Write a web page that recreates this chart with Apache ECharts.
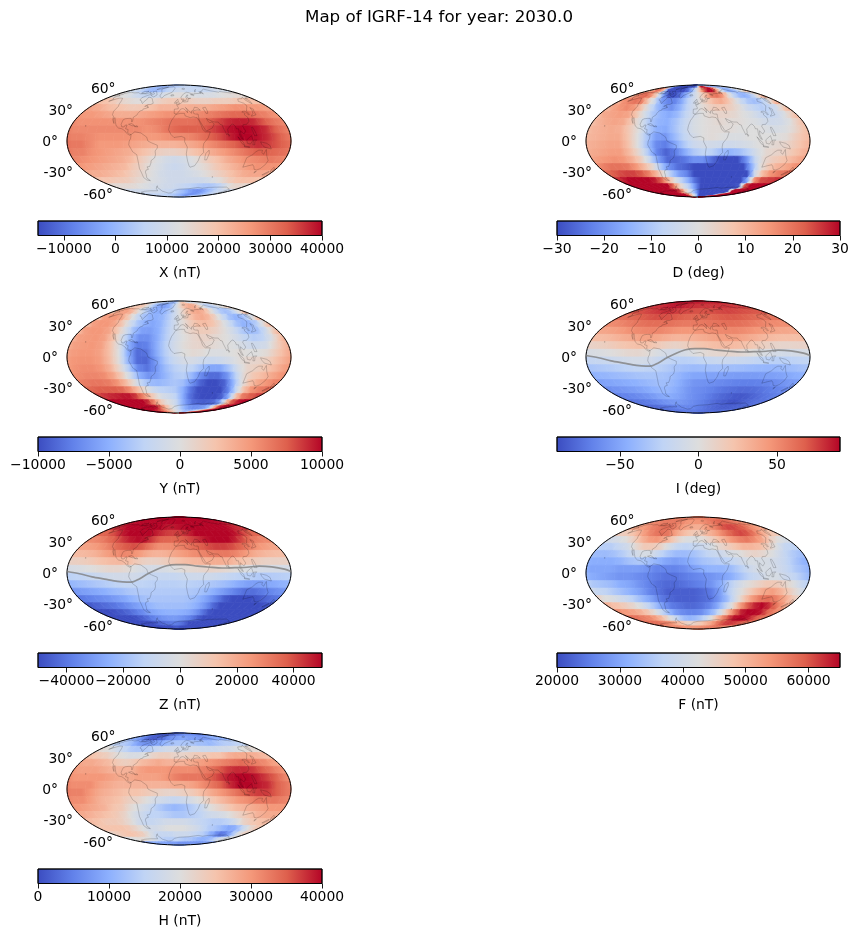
<!DOCTYPE html>
<html>
<head>
<meta charset="utf-8">
<style>html,body{margin:0;background:#fff}#chart{width:858px;height:936px}</style>
<script src="https://cdn.jsdelivr.net/npm/echarts@6/dist/echarts.min.js"></script>
</head>
<body>
<div id="chart"></div>
<script>
// cell centres of the value tables
const lonCenters=[-172.5,-157.5,-142.5,-127.5,-112.5,-97.5,-82.5,-67.5,-52.5,-37.5,-22.5,-7.5,7.5,22.5,37.5,52.5,67.5,82.5,97.5,112.5,127.5,142.5,157.5,172.5]
const latCenters=[85,75,65,55,45,35,25,15,5,-5,-15,-25,-35,-45,-55,-65,-75,-85]

// X, thousands of nT
const xValues=[
[4,3,2,1,0,0,0,2,3,3,4,4,5,5,6,7,7,7,6,6,6,6,5,5],
[9,8,6,3,1,0,1,2,4,6,7,8,9,8,7,7,7,7,7,7,8,9,10,10],
[14,13,12,10,8,7,7,8,9,11,12,13,13,12,12,11,11,11,11,12,13,13,14,14],
[20,19,17,15,14,13,13,14,15,17,18,18,18,17,16,16,16,17,17,17,18,19,20,20],
[24,23,21,20,19,18,18,19,20,22,22,22,22,23,23,23,24,25,26,27,27,26,26,25],
[26,26,25,24,23,23,23,24,25,26,27,27,27,27,28,29,30,31,32,32,32,30,29,27],
[27,27,27,27,27,27,27,27,28,29,30,31,31,31,32,33,35,37,38,38,37,34,31,29],
[28,28,28,28,28,28,28,28,27,28,30,32,33,33,33,35,37,39,40,40,39,37,33,30],
[29,29,28,27,27,27,27,26,26,26,27,28,28,29,31,33,35,38,40,40,39,37,34,31],
[30,30,28,26,26,26,25,24,23,22,22,22,23,24,26,28,30,32,34,36,37,36,34,32],
[29,29,27,26,25,24,23,21,19,17,16,16,17,19,21,23,25,27,29,31,33,33,32,31],
[28,27,26,25,24,23,21,18,15,12,10,9,10,12,15,18,20,23,25,27,28,29,30,29],
[26,25,24,23,22,21,18,16,13,11,9,8,9,11,13,15,18,20,22,24,26,27,27,27],
[23,23,22,21,20,18,16,14,12,10,9,9,9,10,11,13,15,17,19,21,23,24,24,24],
[19,19,18,18,17,15,14,12,11,10,9,9,9,9,9,9,10,12,14,17,19,20,20,20],
[14,14,14,14,13,12,11,10,10,9,9,8,7,6,5,4,3,3,4,6,10,14,15,15],
[9,9,9,9,9,9,9,8,8,7,6,4,2,0,-3,-5,-6,-5,-2,1,4,7,8,9],
[6,6,6,6,6,6,5,5,4,3,2,1,0,-2,-3,-5,-6,-6,-5,-3,-1,1,3,5]
]
// D, degrees
const dValues=[
[5,-5,-15,-30,-30,-30,-30,-30,-30,-30,-30,-20,10,30,30,30,25,10,-5,-15,-20,-20,-15,-5],
[10,20,20,5,-30,-30,-30,-30,-30,-25,-15,-3,8,22,30,30,20,2,-8,-15,-15,-12,-5,5],
[15,20,22,15,2,-15,-28,-30,-26,-18,-10,-3,3,10,18,20,15,3,-6,-12,-15,-12,-5,8],
[15,18,20,18,5,-5,-18,-22,-22,-16,-8,-3,2,6,10,12,8,2,-5,-10,-12,-10,-4,8],
[12,15,17,15,7,-3,-12,-18,-20,-15,-8,-3,1,4,6,6,4,1,-4,-7,-9,-7,-3,7],
[12,13,14,13,7,-2,-10,-14,-16,-13,-7,-3,0,2,3,3,2,0,-2,-5,-7,-5,-1,6],
[10,12,13,12,6,-2,-10,-14,-15,-11,-6,-2,0,1,2,1,1,0,-1,-3,-4,-3,0,6],
[10,11,12,11,6,0,-9,-15,-16,-11,-6,-2,0,1,1,1,0,0,0,-1,-2,-1,2,7],
[10,11,12,12,7,0,-10,-18,-19,-13,-7,-3,0,1,0,-1,-1,0,0,0,0,1,5,8],
[11,12,13,13,8,0,-11,-21,-23,-17,-10,-5,-3,-3,-4,-4,-3,-2,0,1,2,3,6,9],
[12,13,14,14,9,2,-9,-22,-27,-23,-16,-10,-7,-8,-12,-14,-12,-8,-2,2,3,4,7,10],
[14,15,16,15,11,5,-5,-18,-26,-26,-24,-20,-20,-25,-30,-30,-30,-20,-6,2,5,7,9,12],
[18,20,20,19,15,9,2,-10,-20,-25,-27,-30,-30,-30,-30,-30,-30,-30,-15,0,6,10,12,15],
[22,24,25,25,23,18,10,0,-10,-18,-22,-30,-30,-30,-30,-30,-30,-30,-30,-5,8,15,18,20],
[27,30,30,30,30,28,22,10,0,-8,-15,-25,-30,-30,-30,-30,-30,-30,-30,-15,15,24,25,26],
[30,30,30,30,30,30,30,20,6,-3,-10,-20,-30,-30,-30,-30,-30,-30,-30,-28,22,30,30,30],
[30,30,30,30,30,30,30,25,10,0,-8,-18,-30,-30,-30,-30,-30,-30,-30,-30,30,30,30,30],
[30,30,30,30,30,30,30,30,15,3,-5,-15,-30,-30,-30,-30,-30,-30,-30,-25,20,30,30,30]
]
// Y, hundreds of nT
const yValues=[
[5,0,-5,-15,-25,-30,-35,-40,-45,-45,-35,-15,10,25,30,25,15,0,-10,-15,-15,-10,0,5],
[20,25,25,10,-15,-35,-50,-60,-60,-50,-30,-5,15,30,40,40,30,10,-10,-25,-30,-20,-5,10],
[40,45,45,30,5,-20,-40,-50,-52,-45,-30,-10,8,25,38,42,35,15,-10,-30,-40,-35,-15,15],
[45,50,50,40,15,-15,-35,-47,-50,-45,-30,-12,5,22,35,40,32,12,-12,-35,-48,-45,-25,10],
[45,50,50,42,20,-10,-35,-50,-55,-48,-30,-12,3,17,28,30,24,8,-12,-35,-48,-45,-25,15],
[45,50,50,43,22,-8,-40,-58,-60,-50,-30,-12,2,12,18,18,12,2,-12,-30,-42,-38,-15,20],
[45,48,50,45,25,-8,-45,-68,-68,-52,-30,-12,0,8,12,10,5,0,-10,-22,-30,-25,-5,25],
[45,48,50,45,25,-5,-50,-78,-75,-52,-28,-10,2,8,10,6,2,0,-5,-12,-15,-10,10,30],
[47,50,50,45,28,0,-50,-85,-82,-55,-30,-12,0,5,3,-3,-3,0,3,0,0,5,20,35],
[50,52,52,47,30,2,-45,-85,-88,-62,-35,-18,-8,-8,-15,-18,-15,-8,2,8,10,15,28,40],
[52,55,55,50,35,8,-30,-72,-82,-65,-42,-28,-20,-25,-40,-55,-55,-35,-8,10,15,22,32,45],
[55,58,58,55,42,18,-15,-50,-65,-60,-45,-32,-28,-45,-70,-85,-85,-65,-25,8,22,30,40,50],
[62,65,65,62,52,32,5,-25,-42,-45,-40,-35,-40,-65,-88,-100,-100,-90,-50,-5,25,40,50,58],
[72,75,75,75,70,55,30,5,-15,-25,-28,-32,-50,-80,-98,-100,-100,-100,-75,-25,22,50,60,68],
[85,90,92,95,95,85,60,32,8,-8,-15,-25,-50,-80,-95,-100,-100,-100,-90,-50,15,60,72,80],
[100,100,100,100,100,100,85,55,25,5,-5,-20,-45,-68,-85,-90,-92,-90,-85,-55,10,70,90,100],
[100,100,100,100,100,100,95,70,40,15,0,-15,-35,-50,-62,-68,-68,-65,-60,-40,10,70,100,100],
[100,100,100,95,85,75,60,45,25,10,0,-10,-20,-30,-40,-45,-45,-40,-30,-10,20,60,90,100]
]
// I, degrees
const iValues=[
[84,84,84,85,86,86,86,86,85,85,85,85,85,84,84,84,84,84,84,84,84,84,84,84],
[78,79,80,82,84,85,85,84,83,82,80,79,78,78,78,78,78,79,79,78,78,77,77,77],
[71,72,74,76,78,80,80,78,76,74,73,71,71,71,72,73,74,75,74,73,72,71,70,70],
[61,63,65,68,70,72,72,71,69,67,65,65,64,64,66,68,69,69,68,66,64,62,60,60],
[50,52,55,58,60,62,62,62,60,58,57,57,58,59,60,62,62,61,59,56,53,51,50,49],
[38,40,43,47,50,52,53,52,49,46,45,46,47,49,51,52,52,50,47,44,41,39,38,37],
[26,27,30,34,37,40,40,37,33,30,30,32,35,38,41,41,41,37,33,29,27,25,25,25],
[11,13,16,20,23,25,24,18,13,10,13,18,22,25,27,28,26,22,17,12,9,8,9,10],
[-5,-3,0,3,6,7,4,-3,-8,-10,-7,-2,3,6,7,7,5,2,-2,-5,-8,-9,-8,-6],
[-19,-17,-15,-12,-9,-8,-9,-15,-20,-24,-25,-24,-20,-17,-15,-15,-16,-18,-21,-24,-25,-25,-23,-21],
[-32,-30,-28,-25,-23,-21,-23,-24,-28,-33,-36,-38,-37,-35,-35,-36,-37,-39,-40,-41,-41,-39,-37,-34],
[-43,-41,-39,-37,-35,-33,-32,-33,-35,-40,-46,-50,-50,-52,-52,-54,-55,-55,-55,-54,-53,-51,-48,-45],
[-52,-50,-48,-46,-44,-41,-38,-36,-38,-44,-52,-58,-59,-61,-63,-65,-67,-68,-68,-67,-65,-62,-58,-55],
[-60,-58,-56,-54,-51,-47,-43,-40,-43,-49,-56,-61,-63,-66,-70,-73,-75,-77,-77,-76,-73,-69,-66,-63],
[-67,-66,-64,-61,-58,-54,-49,-47,-49,-53,-58,-62,-65,-69,-74,-78,-81,-84,-85,-83,-79,-75,-72,-69],
[-73,-72,-70,-68,-65,-61,-58,-56,-56,-58,-61,-64,-67,-71,-75,-79,-82,-85,-88,-85,-81,-78,-75,-74],
[-78,-78,-77,-75,-73,-71,-68,-66,-65,-65,-66,-68,-70,-73,-76,-78,-80,-82,-83,-83,-82,-81,-80,-79],
[-74,-73,-73,-72,-72,-71,-71,-70,-70,-70,-70,-71,-72,-73,-74,-75,-76,-77,-78,-78,-77,-76,-75,-75]
]
// Z, thousands of nT
const zValues=[
[50,50,50,50,50,50,50,50,50,50,50,50,50,50,50,50,50,50,50,50,50,50,50,50],
[48,49,50,50,50,50,50,50,50,50,50,50,50,50,50,50,50,50,50,50,50,50,49,48],
[44,46,50,50,50,50,50,50,50,48,47,48,49,50,50,50,50,50,50,50,50,48,45,44],
[36,38,42,47,50,50,50,50,47,44,42,42,43,46,50,50,50,50,50,50,48,43,38,36],
[28,30,34,38,43,47,49,48,42,37,36,36,38,41,44,48,50,50,50,46,40,34,30,28],
[22,23,26,30,35,38,40,38,32,27,27,28,31,34,37,40,42,42,40,36,31,26,23,21],
[15,16,18,22,26,29,28,24,19,17,18,21,24,27,29,31,32,32,29,25,20,17,15,14],
[7,8,10,13,15,16,14,9,6,6,8,11,14,16,17,19,19,18,14,11,8,6,6,6],
[-3,-2,0,2,4,4,2,-2,-4,-4,-3,-1,2,3,4,5,4,2,0,-2,-4,-4,-4,-4],
[-13,-12,-10,-8,-6,-5,-5,-6,-9,-10,-10,-10,-8,-7,-7,-7,-9,-11,-13,-14,-16,-16,-15,-14],
[-22,-20,-18,-16,-14,-12,-11,-12,-13,-14,-14,-14,-13,-14,-15,-17,-19,-22,-26,-29,-30,-28,-26,-24],
[-31,-29,-27,-25,-22,-20,-17,-16,-16,-16,-16,-16,-16,-17,-19,-23,-28,-33,-38,-42,-42,-39,-36,-33],
[-39,-37,-35,-33,-30,-27,-23,-20,-18,-18,-18,-18,-18,-20,-24,-30,-38,-46,-50,-50,-50,-48,-44,-41],
[-46,-44,-42,-40,-37,-33,-29,-25,-22,-20,-20,-20,-20,-22,-26,-33,-43,-50,-50,-50,-50,-50,-50,-48],
[-50,-50,-48,-46,-43,-39,-35,-30,-27,-25,-24,-24,-25,-27,-32,-40,-48,-50,-50,-50,-50,-50,-50,-50],
[-50,-50,-50,-50,-48,-45,-41,-37,-34,-32,-31,-31,-33,-36,-40,-46,-50,-50,-50,-50,-50,-50,-50,-50],
[-50,-50,-50,-50,-50,-50,-46,-44,-42,-40,-39,-39,-41,-45,-50,-50,-50,-50,-50,-50,-50,-50,-50,-50],
[-50,-50,-50,-50,-50,-50,-50,-50,-50,-48,-47,-47,-49,-50,-50,-50,-50,-50,-50,-50,-50,-50,-50,-50]
]
// F, thousands of nT
const fValues=[
[56,56,56,56,56,56,56,56,56,56,56,56,56,56,56,57,57,57,57,57,57,57,57,56],
[55,56,56,57,57,57,57,56,55,54,54,54,54,55,56,57,58,59,59,59,58,57,56,55],
[52,53,54,56,57,58,58,57,55,53,52,51,51,53,55,57,60,61,61,60,59,56,54,52],
[46,47,49,52,55,57,58,57,53,50,48,47,47,50,52,55,58,60,61,60,57,53,49,47],
[40,41,43,46,50,53,54,52,48,44,42,42,43,45,48,51,54,56,57,55,52,47,43,41],
[36,36,38,40,44,47,47,45,41,38,37,38,39,41,44,46,48,50,50,49,46,42,38,37],
[33,33,34,36,39,41,41,38,35,33,33,34,36,38,39,41,42,44,45,44,42,39,36,34],
[31,31,31,32,34,35,34,32,30,29,30,32,34,35,36,37,39,41,41,41,40,38,35,32],
[30,30,30,29,29,29,28,26,26,26,27,29,31,32,32,33,36,39,41,41,40,38,35,33],
[31,30,29,28,28,27,26,25,24,24,25,26,27,28,29,31,34,37,39,41,41,39,37,34],
[35,34,33,31,30,28,26,24,23,23,24,25,26,28,31,36,40,43,45,47,47,45,42,38],
[38,37,35,33,31,29,26,24,22,22,22,22,23,25,29,36,41,45,49,52,53,50,46,42],
[43,42,40,38,35,32,29,25,23,22,22,22,23,24,28,33,40,47,53,57,58,56,52,47],
[49,48,46,44,41,37,33,28,25,24,23,23,24,26,30,36,43,52,59,63,65,62,57,52],
[54,53,52,50,47,43,38,33,29,27,26,26,27,30,34,41,49,57,63,65,65,64,59,56],
[58,57,56,55,52,49,44,40,36,33,32,33,35,38,43,49,55,60,64,65,65,63,60,58],
[58,58,58,57,56,54,51,49,47,45,45,46,47,49,51,53,56,59,61,62,62,61,60,58],
[55,55,55,55,55,55,54,54,54,54,54,54,54,55,55,55,56,56,57,57,57,57,56,55]
]
// H, thousands of nT
const hValues=[
[5,4,3,2,1,1,1,2,3,3,4,4,5,5,6,7,7,7,6,6,6,6,5,5],
[10,9,7,4,2,1,2,3,4,6,7,8,9,9,8,8,8,7,7,8,9,10,10,10],
[15,14,13,11,8,7,7,8,9,11,12,13,13,13,13,12,12,11,12,13,14,14,15,15],
[21,20,18,16,14,13,13,14,16,17,18,18,18,18,18,17,17,17,18,18,19,20,21,21],
[25,24,23,21,20,19,19,20,22,23,23,22,22,23,24,24,25,25,27,28,28,28,27,26],
[28,28,27,26,24,23,24,26,27,28,27,27,27,28,29,30,31,32,33,34,33,32,31,29],
[29,29,29,28,27,27,27,29,30,30,30,31,31,31,32,33,35,37,38,38,37,35,33,31],
[30,30,30,30,29,28,28,29,29,29,30,32,33,33,33,35,37,39,40,40,39,37,35,32],
[31,31,31,29,28,27,27,27,27,27,27,28,28,29,31,33,35,38,40,40,39,38,35,33],
[32,32,30,28,27,26,25,25,24,23,22,22,23,24,26,28,30,32,34,36,37,37,35,33],
[31,31,29,27,26,25,23,22,20,18,17,16,17,19,21,24,26,28,30,31,33,33,33,32],
[30,29,28,27,25,24,21,19,17,14,12,11,12,14,16,20,22,24,26,27,28,29,30,30],
[28,27,26,25,24,22,19,17,15,15,14,13,13,14,15,17,18,19,21,23,25,27,28,28],
[26,25,24,24,23,21,18,16,16,17,18,18,18,17,16,15,14,14,15,18,22,24,25,26],
[25,25,25,25,24,22,20,18,18,19,20,20,20,19,18,16,14,13,11,9,10,15,20,24],
[23,24,25,25,24,23,20,17,16,16,16,17,17,17,16,15,14,11,8,4,5,10,17,22],
[19,20,21,21,20,19,17,15,14,14,14,15,14,13,13,12,11,10,10,11,13,16,18,19],
[8,9,10,10,10,9,9,8,8,8,8,7,7,7,7,7,7,7,7,7,7,8,8,8]
]

// zero inclination line, [lon, lat]
const dipEquator=[[-180,2],[-160,-1],[-140,-5],[-120,-8],[-100,-11],[-85,-12],[-75,-11.5],[-65,-8],[-50,-1],[-35,5],[-20,9.5],[-5,11],[10,11],[30,9],[50,7.5],[70,6.5],[90,7],[110,7.5],[130,9],[150,8],[170,5],[180,2]]

// rough coastlines, [lon, lat]
const coastlines=[
[[-168,65.5],[-162,67],[-166,68.5],[-156,71],[-141,69.7],[-128,70],[-115,68],[-108,68],[-95,68],[-94,72],[-88,68.5],[-82,69],[-81,67],[-87,65],[-94,61],[-92,57],[-85,55.3],[-82,53],[-79,51.5],[-79,55],[-77,57],[-78,62],[-70,61],[-65,59],[-61,56],[-56,52],[-60,50],[-66,50],[-70,47],[-65,48.5],[-64,46],[-61,46],[-66,44],[-70,43.5],[-70,41.5],[-74,40.5],[-76,37],[-76,35],[-81,31.5],[-80,27],[-80.5,25],[-82.5,28],[-84,30],[-89,30],[-94,29.5],[-97,28],[-97.5,22],[-95,18.5],[-91,18.5],[-90,21],[-87,21],[-88,16],[-83.5,15],[-83.5,11],[-80,9],[-77.5,8.5],[-80,7.5],[-85,10],[-88,13],[-94,16],[-100,17],[-105,20],[-109,25.5],[-113,31],[-114.5,30],[-110,23],[-115,28],[-117,32.5],[-121,35],[-124,40],[-124,47],[-128,51],[-133,56],[-140,60],[-148,60.5],[-152,59],[-160,55],[-158,58.5],[-165,60.5],[-165,63],[-161,64.5],[-168,65.5]],
[[-77.5,8.5],[-72,12],[-62,10.5],[-52,5],[-50,0],[-44,-2.5],[-35,-5.5],[-35,-9],[-39,-13],[-39,-18],[-41,-22],[-48,-26],[-49,-29],[-53,-34],[-58,-34.5],[-57,-38],[-62,-39],[-65,-42],[-66,-46],[-69,-51],[-65,-55],[-72,-54],[-75,-50],[-73,-42],[-73,-37],[-71,-30],[-70,-18],[-76,-14],[-81,-5],[-80,0],[-78,3],[-77.5,8.5]],
[[-6,35.5],[3,37],[10,37],[11,33.5],[20,31],[25,32],[32,31],[34,28],[37,21],[39,15],[43,12],[51,12],[47,4],[40,-3],[39,-8],[40.5,-15],[35,-20],[33,-26],[28,-33],[20,-35],[18,-33],[15,-27],[12,-17],[13.5,-8],[9,-1],[9.5,4],[4,6],[-5,5],[-8,4.5],[-13,8.5],[-17,14.5],[-16,20],[-13,27],[-9.5,31],[-6,35.5]],
[[49,-12],[50,-16],[47,-25],[44,-25],[43.5,-20],[44.5,-16],[49,-12]],
[[-9,37],[-9,43],[-1.5,43.5],[-1.5,46],[-4.5,48.5],[2,51],[8,54],[8.5,57],[10.5,57],[10,54],[14,54],[20,54.5],[22,59],[29,60],[22,60],[21,63],[25,65.5],[22,65.8],[17.5,62],[18.5,59.5],[15.5,56],[13,55.5],[11,59],[6,58],[5,62],[14,68],[25,71],[31,70],[41,67],[33,66.5],[40,64.5],[44,68],[54,68.5],[68,69],[67,72],[73,68],[73,72.5],[80,73],[87,75],[104,77.5],[113,74],[130,71],[140,72.5],[160,69.5],[170,70],[180,68.5]],
[[-180,68.5],[-170,66],[-173,64],[-180,65]],
[[180,65],[177,64.5],[170,60],[163,60],[163,56],[157,51],[156,57],[163,62],[155,59.5],[143,59],[135,55],[141,52],[140,48],[132,43],[128,40],[129,36],[126,34.5],[126,38],[125,40],[121,40],[118,39],[122,37],[119,35],[122,31],[120,26],[114,22],[108,21.5],[106,19],[109,13],[105,9],[100.5,13.5],[100,8],[103.5,2],[101,3],[98,8],[98,16],[94.5,16],[94,19],[91,22.5],[87,21],[80,15.5],[80,11],[77.5,8],[73,18],[72.5,21],[69,22],[67,25],[61,25],[57,26],[52,28],[48,30],[50,26],[52,24],[56,25],[59.5,22.5],[55,17],[45,13],[43,15],[39,21],[35,28],[35,36],[30,36],[27,37],[26.5,40],[29,41],[35,42],[41,41.5],[37,45],[31,46],[28,42],[24,40.5],[23,37],[20,40],[13,45.5],[16,41.5],[16,38],[12,42],[8,44],[3,43],[0,39.5],[-5,36],[-9,37]],
[[-73,78],[-60,82],[-32,83.5],[-18,80],[-22,71],[-40,65],[-43,60],[-52,64],[-54,70],[-68,76],[-73,78]],
[[-80,73.5],[-68,69],[-62,66],[-66,62],[-72,64],[-78,65],[-73,68],[-88,72],[-80,73.5]],
[[-90,76.5],[-75,78],[-62,82.5],[-90,82],[-90,76.5]],
[[-118,72],[-105,73],[-102,69],[-115,69],[-118,72]],
[[-5,50],[1,51.5],[-2,56],[-3,58.5],[-6,56],[-3,54],[-5,52],[-5,50]],
[[-6,52],[-10,52],[-8,55],[-6,54],[-6,52]],
[[-22,64],[-14,64.5],[-16,66.5],[-22,66],[-22,64]],
[[130,33],[140,35],[142,40],[145,43],[142,45.5],[140,41],[136,36.5],[131,34],[130,33]],
[[-85,22],[-80,23],[-74,20],[-78,20],[-85,22]],
[[-74,19],[-68.5,18.5],[-70,20],[-74,19]],
[[120,18],[122,18],[124,13],[126,7],[122,7],[120,14],[120,18]],
[[109,1.5],[117,7],[119,1],[115,-4],[110,-3],[109,1.5]],
[[95,5.5],[104,-2],[106,-6],[101,-3],[95,5.5]],
[[105,-6.5],[114,-7.5],[114,-8.5],[106,-7.5],[105,-6.5]],
[[119,-5],[120,1],[125,1.5],[122,-1],[122,-5],[119,-5]],
[[131,-1],[141,-3],[147,-6],[150,-10.5],[143,-9],[138,-8],[133,-4],[131,-1]],
[[114,-22],[122,-18],[126,-14],[130,-12],[136,-12],[136,-15],[140,-17.5],[142,-11],[146,-19],[153,-26],[153,-31],[150,-37],[146,-39],[140,-38],[135,-34],[131,-31.5],[124,-33],[116,-35],[115,-31],[114,-22]],
[[145,-41],[148,-41],[147,-43.5],[145,-41]],
[[173,-35],[178,-38],[175,-41.5],[173,-39],[173,-35]],
[[172,-41],[174,-42],[170,-46.5],[167,-46],[172,-41]],
[[80,9.5],[82,7],[80.5,6],[80,9.5]],
[[-156,20.5],[-155,19],[-156,19.5],[-156,20.5]],
[[69,-49],[70.5,-49],[70,-50],[69,-49]],
[[47,45],[53,46],[54,40],[53,37],[50,37],[49,40],[47,45]],
[[-180,-78],[-160,-79],[-150,-76],[-125,-74],[-100,-73],[-75,-73],[-68,-68],[-58,-63.5],[-62,-66],[-60,-74],[-45,-78],[-30,-77],[-15,-72],[0,-70],[30,-69],[55,-66.5],[70,-68],[85,-66.5],[110,-66],[135,-66],[160,-70],[170,-78],[180,-78]],
[[12,78],[20,80],[25,78],[17,76.5],[12,78]],
[[52,71],[68,77],[58,74.5],[52,71]]
]

const latTicks=[60,30,0,-30,-60]
const xTicks=[-10000,0,10000,20000,30000,40000]
const dTicks=[-30,-20,-10,0,10,20,30]
const yTicks=[-10000,-5000,0,5000,10000]
const iTicks=[-50,0,50]
const zTicks=[-40000,-20000,0,20000,40000]
const fTicks=[20000,30000,40000,50000,60000]
const hTicks=[0,10000,20000,30000,40000]

const panels=[
  {name:'X (nT)',values:xValues,unit:1000,min:-15000,max:40000,ticks:xTicks,col:0,row:0},
  {name:'D (deg)',values:dValues,unit:1,min:-30,max:30,ticks:dTicks,col:1,row:0},
  {name:'Y (nT)',values:yValues,unit:100,min:-10000,max:10000,ticks:yTicks,col:0,row:1},
  {name:'I (deg)',values:iValues,unit:1,min:-90,max:90,ticks:iTicks,col:1,row:1,zeroLine:true},
  {name:'Z (nT)',values:zValues,unit:1000,min:-50000,max:50000,ticks:zTicks,col:0,row:2,zeroLine:true},
  {name:'F (nT)',values:fValues,unit:1000,min:20000,max:65000,ticks:fTicks,col:1,row:2},
  {name:'H (nT)',values:hValues,unit:1000,min:0,max:40000,ticks:hTicks,col:0,row:3}
]

// matplotlib coolwarm
const coolwarm=['rgb(59,76,192)','rgb(98,130,234)','rgb(141,176,254)','rgb(192,212,245)','rgb(221,221,221)','rgb(245,196,173)','rgb(244,152,122)','rgb(222,96,77)','rgb(180,4,38)']

const SQRT2=Math.SQRT2
function mollweide(lon,lat){
  let phi=lat*Math.PI/180
  if(Math.abs(lat)>=90) return [0,Math.sign(lat)*SQRT2]
  let t=phi
  for(let i=0;i<30;i++){
    t-=(2*t+Math.sin(2*t)-Math.PI*Math.sin(phi))/(2+2*Math.cos(2*t)+1e-9)
  }
  return [2*SQRT2/Math.PI*(lon*Math.PI/180)*Math.cos(t),SQRT2*Math.sin(t)]
}

let chart=echarts.init(document.getElementById('chart'),null,{renderer:'canvas'})
let grids=[],xAxes=[],yAxes=[],series=[]
const mapLefts=[67,586],barLefts=[38,557],barWidths=[284,283]
const mapTops=[85,301,517,733],barTops=[221,437,653,869]

// label shift away from the ellipse edge
const labelShift={'60':[9,-9],'30':[-3.5,-7],'0':[-9,1],'-30':[-3.5,9.5],'-60':[6.5,11.5]}

panels.forEach((p,i)=>{
  let idx=grids.length
  grids.push({left:mapLefts[p.col],top:mapTops[p.row],width:224,height:112})
  xAxes.push({gridIndex:idx,type:'value',min:-2*SQRT2,max:2*SQRT2,show:false})
  yAxes.push({gridIndex:idx,type:'value',min:-SQRT2,max:SQRT2,show:false})

  let cells=[]
  latCenters.forEach((lat,r)=>lonCenters.forEach((lon,c)=>{
    cells.push([lon,lat,p.values[r][c]*p.unit,r,c])
  }))
  let colorOf=v=>echarts.color.lerp(Math.min(1,Math.max(0,(v-p.min)/(p.max-p.min))),coolwarm)
  series.push({
    type:'custom',xAxisIndex:idx,yAxisIndex:idx,silent:true,clip:false,progressive:0,data:cells,
    renderItem:(params,api)=>{
      let lon=api.value(0),lat=api.value(1),v=api.value(2),r=api.value(3),c=api.value(4)
      let row=p.values[r],n=row.length
      let corners=[[lon-7.5,lat+5],[lon+7.5,lat+5],[lon+7.5,lat],[lon+7.5,lat-5],[lon-7.5,lat-5],[lon-7.5,lat]]
      let a=api.coord(mollweide(lon-7.5,lat)),b=api.coord(mollweide(lon+7.5,lat))
      // shade each cell towards the side cells so the map does not look like bricks
      let fill=new echarts.graphic.LinearGradient(a[0],a[1],b[0],b[1],[
        {offset:0,color:colorOf((row[(c+n-1)%n]*p.unit+v)/2)},
        {offset:0.5,color:colorOf(v)},
        {offset:1,color:colorOf((row[(c+1)%n]*p.unit+v)/2)}
      ],true)
      return {
        type:'polygon',
        shape:{points:corners.map(q=>api.coord(mollweide(q[0],q[1])))},
        style:{fill:fill,stroke:fill,lineWidth:0.5}
      }
    }
  })
  // coastlines
  series.push({
    type:'custom',xAxisIndex:idx,yAxisIndex:idx,silent:true,clip:false,progressive:0,
    data:coastlines.map((c,k)=>[k,0]),
    renderItem:(params,api)=>({
      type:'polyline',
      shape:{points:coastlines[api.value(0)].map(q=>api.coord(mollweide(q[0],q[1])))},
      style:{fill:null,stroke:'rgba(0,0,0,0.3)',lineWidth:0.6}
    })
  })
  if(p.zeroLine){
    series.push({
      type:'line',xAxisIndex:idx,yAxisIndex:idx,silent:true,showSymbol:false,clip:false,smooth:0.3,
      data:dipEquator.map(q=>mollweide(q[0],q[1])),
      lineStyle:{color:'rgba(128,128,128,0.8)',width:1.7}
    })
  }
  // outline of the map
  series.push({
    type:'custom',xAxisIndex:idx,yAxisIndex:idx,silent:true,clip:false,data:[[0,0]],
    renderItem:(params,api)=>{
      let c=api.coord([0,0]),e=api.coord([2*SQRT2,SQRT2])
      return {type:'ellipse',shape:{cx:c[0],cy:c[1],rx:e[0]-c[0],ry:c[1]-e[1]},style:{fill:null,stroke:'#000',lineWidth:1}}
    }
  })
  // latitude labels
  series.push({
    type:'custom',xAxisIndex:idx,yAxisIndex:idx,silent:true,clip:false,
    data:latTicks.map(l=>[-180,l]),
    renderItem:(params,api)=>{
      let lat=api.value(1),q=api.coord(mollweide(-180,lat)),s=labelShift[lat]
      return {type:'text',x:q[0]+s[0],y:q[1]+s[1],style:{text:lat+'°',align:'right',verticalAlign:'middle',font:'13.9px "DejaVu Sans"',fill:'#000'}}
    }
  })

  // colorbar
  let bar=grids.length
  grids.push({left:barLefts[p.col],top:barTops[p.row],width:barWidths[p.col],height:14.5})
  xAxes.push({
    gridIndex:bar,type:'value',min:p.min,max:p.max,name:p.name,nameLocation:'middle',nameGap:31,
    nameTextStyle:{fontSize:13.9,color:'#000'},
    axisLine:{show:false},splitLine:{show:false},
    axisTick:{show:true,length:5,customValues:p.ticks,lineStyle:{color:'#000',width:0.9}},
    axisLabel:{show:true,margin:7,fontSize:13.9,color:'#000',customValues:p.ticks,hideOverlap:false,
      formatter:v=>String(v).replace('-','\u2212')}
  })
  yAxes.push({gridIndex:bar,type:'value',min:0,max:1,show:false})
  series.push({
    type:'custom',xAxisIndex:bar,yAxisIndex:bar,silent:true,clip:false,data:[[p.min,1]],
    renderItem:(params,api)=>{
      let a=api.coord([p.min,1]),b=api.coord([p.max,0])
      let stops=coolwarm.map((c,k)=>({offset:k/(coolwarm.length-1),color:c}))
      return {type:'rect',shape:{x:a[0],y:a[1],width:b[0]-a[0],height:b[1]-a[1]},
        style:{fill:new echarts.graphic.LinearGradient(0,0,1,0,stops),stroke:'#000',lineWidth:0.9}}
    }
  })
})

chart.setOption({
  animation:false,
  backgroundColor:'#fff',
  textStyle:{fontFamily:'DejaVu Sans'},
  title:{text:'Map of IGRF-14 for year: 2030.0',left:305,top:4,textStyle:{fontSize:16.7,fontWeight:'normal',color:'#000',fontFamily:'DejaVu Sans'}},
  grid:grids,xAxis:xAxes,yAxis:yAxes,series:series
})
chart.setOption({title:{left:300}})
</script>
</body>
</html>
